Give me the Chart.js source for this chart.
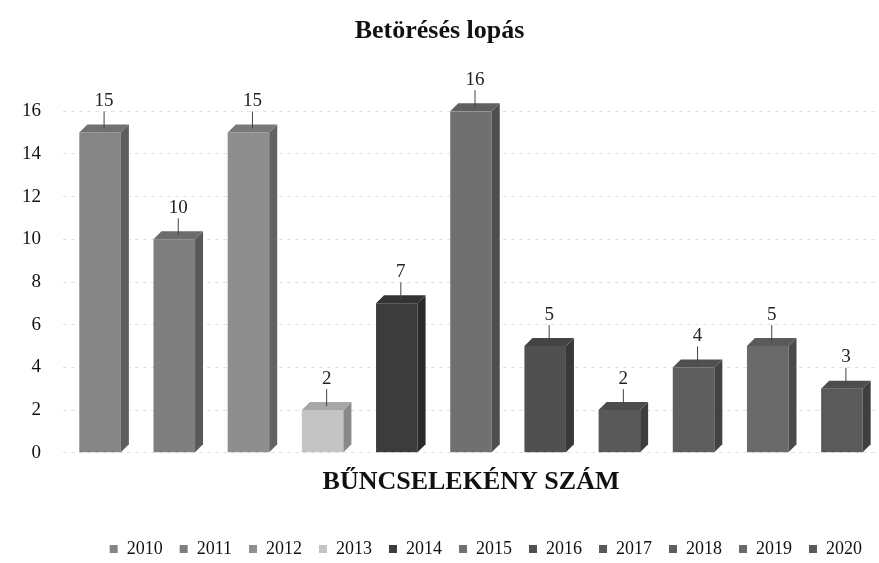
<!DOCTYPE html>
<html>
<head>
<meta charset="utf-8">
<script src="https://cdn.jsdelivr.net/npm/chart.js@4.4.1/dist/chart.umd.min.js"></script>
<style>
  html, body { margin: 0; padding: 0; background: #fff; }
  #wrap { width: 879px; height: 563px; }
</style>
</head>
<body>
<div id="wrap"><canvas id="myChart"></canvas></div>
<script>
// adatok
const years = ['2010', '2011', '2012', '2013', '2014', '2015', '2016', '2017', '2018', '2019', '2020'];
const counts = [15, 10, 15, 2, 7, 16, 5, 2, 4, 5, 3];
const yearColors = ['#858585', '#7f7f7f', '#8e8e8e', '#c4c4c4', '#3c3c3c', '#707070',
                    '#505050', '#595959', '#5e5e5e', '#6a6a6a', '#5a5a5a'];
const categoryLabels = ['BŰNCSELEKÉNY SZÁM'];
const yTicks = [0, 2, 4, 6, 8, 10, 12, 14, 16];

const serif = "'Liberation Serif', 'DejaVu Serif', serif";

function shade(hex, f) {
    const n = parseInt(hex.slice(1), 16);
    const r = Math.round(((n >> 16) & 255) * f);
    const g = Math.round(((n >> 8) & 255) * f);
    const b = Math.round((n & 255) * f);
    return 'rgb(' + r + ',' + g + ',' + b + ')';
}

// kis 3D hatás: oldal- és tetőlap a bar elemekből számolva
const fakeDepth = {
    id: 'fakeDepth',
    afterDatasetsDraw(chart) {
        const ctx = chart.ctx;
        const d = 8;
        chart.data.datasets.forEach((ds, i) => {
            const bar = chart.getDatasetMeta(i).data[0];
            if (!bar) return;
            const half = bar.width / 2;
            const right = bar.x + half, left = bar.x - half;
            ctx.save();
            ctx.fillStyle = shade(ds.backgroundColor, 0.7);
            ctx.beginPath();
            ctx.moveTo(right, bar.y);
            ctx.lineTo(right + d, bar.y - d);
            ctx.lineTo(right + d, bar.base - d);
            ctx.lineTo(right, bar.base);
            ctx.closePath();
            ctx.fill();
            ctx.fillStyle = shade(ds.backgroundColor, 0.85);
            ctx.beginPath();
            ctx.moveTo(left, bar.y);
            ctx.lineTo(left + d, bar.y - d);
            ctx.lineTo(right + d, bar.y - d);
            ctx.lineTo(right, bar.y);
            ctx.closePath();
            ctx.fill();
            ctx.restore();
        });
    }
};

// értékfeliratok a bárok fölött
const valueLabels = {
    id: 'valueLabels',
    afterDatasetsDraw(chart) {
        const ctx = chart.ctx;
        ctx.save();
        ctx.font = '19px ' + serif;
        ctx.fillStyle = '#222';
        ctx.strokeStyle = '#444';
        ctx.lineWidth = 1;
        ctx.textAlign = 'center';
        ctx.textBaseline = 'bottom';
        chart.data.datasets.forEach((ds, i) => {
            const bar = chart.getDatasetMeta(i).data[0];
            if (!bar) return;
            const x = bar.x + 4;
            ctx.fillText(ds.data[0], x, bar.y - 22);
            ctx.beginPath();
            ctx.moveTo(x, bar.y - 21);
            ctx.lineTo(x, bar.y - 4);
            ctx.stroke();
        });
        ctx.restore();
    }
};

const ctx = document.getElementById('myChart').getContext('2d');
const myChart = new Chart(ctx, {
    type: 'bar',
    data: {
        labels: categoryLabels,
        datasets: years.map((y, i) => ({
            label: y,
            data: [counts[i]],
            backgroundColor: yearColors[i],
            borderWidth: 0
        }))
    },
    options: {
        responsive: true,
        maintainAspectRatio: false,
        animation: false,
        layout: { padding: { left: 0, right: 0, top: 4, bottom: -5 } },
        datasets: {
            bar: { barPercentage: 0.56, categoryPercentage: 1.0 }
        },
        scales: {
            x: {
                grid: { display: false },
                border: { display: false },
                ticks: { display: false },
                title: {
                    display: true,
                    text: 'BŰNCSELEKÉNY SZÁM',
                    color: '#111',
                    font: { family: serif, size: 26, weight: 'bold' },
                    padding: { top: 6, bottom: 25 }
                }
            },
            y: {
                min: 0,
                max: 16,
                afterBuildTicks(axis) {
                    axis.ticks = yTicks.map(v => ({ value: v }));
                },
                grid: { color: '#e2e2e2', drawTicks: false },
                border: { display: false, dash: [4, 4] },
                ticks: {
                    color: '#111',
                    padding: 22,
                    font: { family: serif, size: 19 }
                }
            }
        },
        plugins: {
            title: {
                display: true,
                text: 'Betörésés lopás',
                color: '#111',
                font: { family: serif, size: 26, weight: 'bold' },
                padding: { top: 12, bottom: 64 }
            },
            legend: {
                position: 'bottom',
                align: 'end',
                labels: {
                    color: '#111',
                    boxWidth: 8,
                    boxHeight: 8,
                    padding: 17,
                    font: { family: serif, size: 18 }
                }
            },
            tooltip: { enabled: false }
        }
    },
    plugins: [fakeDepth, valueLabels]
});
</script>
</body>
</html>
